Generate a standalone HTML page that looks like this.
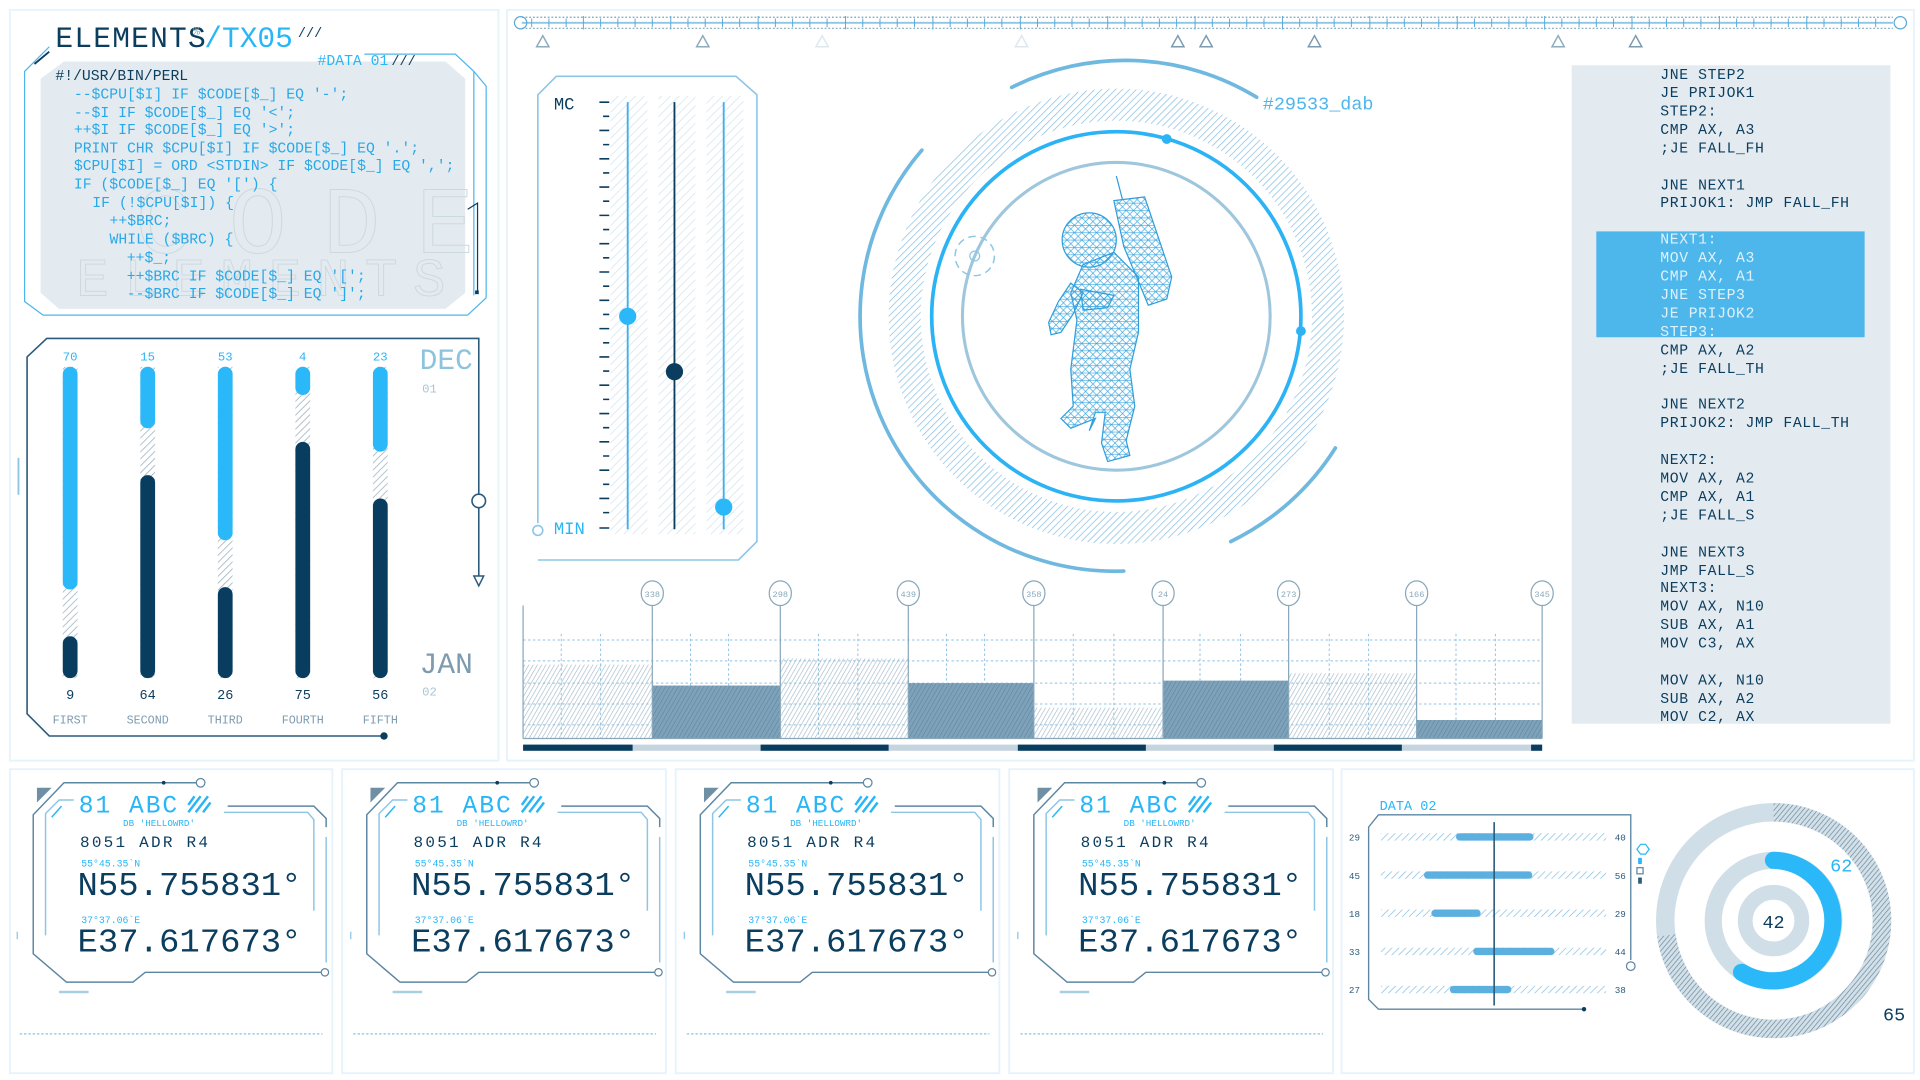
<!DOCTYPE html>
<html><head><meta charset="utf-8"><style>
html,body{margin:0;padding:0;background:#fff;}
svg{display:block;}
text{font-family:"Liberation Mono","DejaVu Sans Mono",monospace;}
</style></head><body>
<svg width="1920" height="1080" viewBox="0 0 1560 877.5" xmlns="http://www.w3.org/2000/svg">
<defs>
<pattern id="hl" patternUnits="userSpaceOnUse" width="4" height="4" patternTransform="rotate(45)"><line x1="0" y1="0" x2="0" y2="4" stroke="#7fbbe0" stroke-width="1.1"/></pattern>
<pattern id="hlp" patternUnits="userSpaceOnUse" width="5" height="5" patternTransform="rotate(45)"><line x1="0" y1="0" x2="0" y2="5" stroke="#d3e4ee" stroke-width="1.2"/></pattern>
<pattern id="hd" patternUnits="userSpaceOnUse" width="3" height="3" patternTransform="rotate(30)"><line x1="0" y1="0" x2="0" y2="3" stroke="#9fb7c7" stroke-width="1"/></pattern>
<pattern id="hdk" patternUnits="userSpaceOnUse" width="3" height="3" patternTransform="rotate(30)"><rect width="3" height="3" fill="#7fa2bb"/><line x1="0" y1="0" x2="0" y2="3" stroke="#5f869f" stroke-width="1"/></pattern>
<pattern id="hg" patternUnits="userSpaceOnUse" width="4" height="4" patternTransform="rotate(45)"><line x1="0" y1="0" x2="0" y2="4" stroke="#9fb4c2" stroke-width="1.3"/></pattern>
<pattern id="hring" patternUnits="userSpaceOnUse" width="3" height="3" patternTransform="rotate(40)"><rect width="3" height="3" fill="#d3e0e8"/><line x1="0" y1="0" x2="0" y2="3" stroke="#6f8ea3" stroke-width="1.2"/></pattern>
<pattern id="mesh" patternUnits="userSpaceOnUse" width="6" height="6"><path d="M0 0L6 6M6 0L0 6M0 3H6" stroke="#3aa4dd" stroke-width="0.5" fill="none"/></pattern>
</defs>

<g fill="none" stroke="#e5f3fb" stroke-width="1.5">
<rect x="8" y="8" width="397" height="610"/>
<rect x="412" y="8" width="1143" height="610"/>
<rect x="8" y="625" width="262" height="247"/>
<rect x="278" y="625" width="263" height="247"/>
<rect x="549" y="625" width="263" height="247"/>
<rect x="820" y="625" width="263" height="247"/>
<rect x="1090" y="625" width="465" height="247"/>
</g>

<polygon points="52,50 362,50 378,64 378,238 362,251 48,251 33,238 33,64" fill="#e3ebf0"/>
<g fill="none" stroke="#4fb6ec" stroke-width="1">
<path d="M40 38 L20 58 L20 245 L35 256 L380 256"/>
<path d="M296 44 L370 44 L385 58 L385 240"/>
<path d="M380 256 L395 242 L395 70 L385 58" />
</g>
<path d="M28 52 L40 42" stroke="#0a3d5e" stroke-width="1.5"/>
<path d="M380 170 L388 165 L388 238" stroke="#0a3d5e" stroke-width="1" fill="none"/>
<rect x="386" y="236" width="3" height="3" fill="#0a3d5e"/>
<text x="45" y="38" font-size="24" fill="#0a3d5e" letter-spacing="1">ELEMENTS</text>
<text x="157" y="28" font-size="9" fill="#8aa">%</text>
<text x="166" y="38" font-size="24" fill="#29b6f6">/TX05</text>
<text x="242" y="30" font-size="11" fill="#0a3d5e">///</text>
<text x="258" y="53" font-size="12" fill="#29b6f6">#DATA 01</text><text x="318" y="53" font-size="11" fill="#0a3d5e">///</text>
<text x="110" y="205" font-size="78" fill="none" stroke="#cdd9e0" stroke-width="0.8" textLength="275" lengthAdjust="spacing" font-family="Liberation Sans">CODE</text>
<text x="62" y="240" font-size="44" fill="none" stroke="#cdd9e0" stroke-width="0.8" textLength="300" lengthAdjust="spacing" font-family="Liberation Sans">ELEMENTS</text>
<g font-size="12" fill="#29a8e8">
<text x="45" y="65" fill="#0a3d5e">#!/USR/BIN/PERL</text>
<text x="60" y="80">--$CPU[$I] IF $CODE[$_] EQ '-';</text>
<text x="60" y="95">--$I IF $CODE[$_] EQ '&lt;';</text>
<text x="60" y="109">++$I IF $CODE[$_] EQ '&gt;';</text>
<text x="60" y="124">PRINT CHR $CPU[$I] IF $CODE[$_] EQ '.';</text>
<text x="60" y="138">$CPU[$I] = ORD &lt;STDIN&gt; IF $CODE[$_] EQ ',';</text>
<text x="60" y="153">IF ($CODE[$_] EQ '[') {</text>
<text x="75" y="168">IF (!$CPU[$I]) {</text>
<text x="89" y="183">++$BRC;</text>
<text x="89" y="198">WHILE ($BRC) {</text>
<text x="103" y="213">++$_;</text>
<text x="103" y="228">++$BRC IF $CODE[$_] EQ '[';</text>
<text x="103" y="242">--$BRC IF $CODE[$_] EQ ']';</text>
</g>

<g fill="none" stroke="#2b5a7a" stroke-width="1.3">
<path d="M389 470 L389 275 L38 275 L22 290 L22 580 L40 598 L312 598"/>
</g>
<circle cx="389" cy="407" r="5.5" fill="#fff" stroke="#2b5a7a" stroke-width="1.3"/>
<path d="M385 468 L393 468 L389 476 Z" fill="#fff" stroke="#2b5a7a" stroke-width="1.2"/>
<circle cx="312" cy="598" r="3" fill="#0a3d5e"/>
<line x1="15" y1="372" x2="15" y2="402" stroke="#8fc3e2" stroke-width="1.5"/>
<g>
<rect x="51" y="298" width="12" height="253" fill="url(#hg)"/>
<rect x="51" y="298" width="12" height="181" rx="6" fill="#2bb8f8"/>
<rect x="51" y="517" width="12" height="34" rx="6" fill="#083d60"/>
<rect x="114" y="298" width="12" height="253" fill="url(#hg)"/>
<rect x="114" y="298" width="12" height="50" rx="6" fill="#2bb8f8"/>
<rect x="114" y="386" width="12" height="165" rx="6" fill="#083d60"/>
<rect x="177" y="298" width="12" height="253" fill="url(#hg)"/>
<rect x="177" y="298" width="12" height="141" rx="6" fill="#2bb8f8"/>
<rect x="177" y="477" width="12" height="74" rx="6" fill="#083d60"/>
<rect x="240" y="298" width="12" height="253" fill="url(#hg)"/>
<rect x="240" y="298" width="12" height="23" rx="6" fill="#2bb8f8"/>
<rect x="240" y="359" width="12" height="192" rx="6" fill="#083d60"/>
<rect x="303" y="298" width="12" height="253" fill="url(#hg)"/>
<rect x="303" y="298" width="12" height="69" rx="6" fill="#2bb8f8"/>
<rect x="303" y="405" width="12" height="146" rx="6" fill="#083d60"/>
</g>
<g font-size="10" text-anchor="middle">
<g fill="#29b6f6"><text x="57" y="293">70</text><text x="120" y="293">15</text><text x="183" y="293">53</text><text x="246" y="293">4</text><text x="309" y="293">23</text></g>
<g fill="#0a3d5e" font-size="11"><text x="57" y="568">9</text><text x="120" y="568">64</text><text x="183" y="568">26</text><text x="246" y="568">75</text><text x="309" y="568">56</text></g>
<g fill="#7d9bb0" font-size="9.5"><text x="57" y="588">FIRST</text><text x="120" y="588">SECOND</text><text x="183" y="588">THIRD</text><text x="246" y="588">FOURTH</text><text x="309" y="588">FIFTH</text></g>
</g>
<text x="341" y="300" font-size="24" fill="#8ec3de">DEC</text>
<text x="343" y="319" font-size="10" fill="#a9c6d6">01</text>
<text x="341" y="547" font-size="24" fill="#7d9bb0">JAN</text>
<text x="343" y="565" font-size="10" fill="#a9c6d6">02</text>

<g stroke="#5aa9d6" fill="none">
<line x1="424" y1="14" x2="1538" y2="14" stroke-dasharray="1.5 1.5" stroke="#7fa6bf"/>
<line x1="424" y1="23" x2="1538" y2="23" stroke-dasharray="1.5 1.5" stroke="#7fa6bf"/>
<line x1="424" y1="18.5" x2="1538" y2="18.5" stroke="#8fc6e6" stroke-width="1.5"/>
<circle cx="423" cy="18.5" r="5" stroke="#5aa9d6"/>
<circle cx="1544" cy="18.5" r="5" stroke="#5aa9d6"/>
<path stroke="#5aa9d6" stroke-width="0.8" d="M432 15v7M446 15v7M460 15v7M474 13v11M488 15v7M502 15v7M516 15v7M530 15v7M545 13v11M559 15v7M573 15v7M587 15v7M601 15v7M616 13v11M630 15v7M644 15v7M658 15v7M672 15v7M687 13v11M701 15v7M715 15v7M729 15v7M743 15v7M758 13v11M772 15v7M786 15v7M800 15v7M814 15v7M829 13v11M843 15v7M857 15v7M871 15v7M885 15v7M900 13v11M914 15v7M928 15v7M942 15v7M956 15v7M971 13v11M985 15v7M999 15v7M1013 15v7M1027 15v7M1042 13v11M1056 15v7M1070 15v7M1084 15v7M1098 15v7M1113 13v11M1127 15v7M1141 15v7M1155 15v7M1169 15v7M1184 13v11M1198 15v7M1212 15v7M1226 15v7M1240 15v7M1255 13v11M1269 15v7M1283 15v7M1297 15v7M1311 15v7M1326 13v11M1340 15v7M1354 15v7M1368 15v7M1382 15v7M1397 13v11M1411 15v7M1425 15v7M1439 15v7M1453 15v7M1468 13v11M1482 15v7M1496 15v7M1510 15v7M1524 15v7"/>
</g>
<g fill="none" stroke-width="1.2">
<path d="M441 29 L436 38 L446 38 Z" stroke="#8eaabd"/>
<path d="M571 29 L566 38 L576 38 Z" stroke="#8eaabd"/>
<path d="M668 29 L663 38 L673 38 Z" stroke="#dde7ee"/>
<path d="M830 29 L825 38 L835 38 Z" stroke="#dde7ee"/>
<path d="M957 29 L952 38 L962 38 Z" stroke="#7a9ab0"/>
<path d="M980 29 L975 38 L985 38 Z" stroke="#7a9ab0"/>
<path d="M1068 29 L1063 38 L1073 38 Z" stroke="#7a9ab0"/>
<path d="M1266 29 L1261 38 L1271 38 Z" stroke="#8eaabd"/>
<path d="M1329 29 L1324 38 L1334 38 Z" stroke="#7a9ab0"/>
</g>

<path d="M437 425 L437 77 L452 62 L598 62 L615 77 L615 440 L600 455 L437 455" fill="none" stroke="#8cc6e6" stroke-width="1.3"/>
<circle cx="437" cy="431" r="4" fill="#fff" stroke="#8cc6e6" stroke-width="1.3"/>
<text x="450" y="89" font-size="14" fill="#0a3d5e">MC</text>
<text x="450" y="434" font-size="14" fill="#29b6f6">MIN</text>
<rect x="496" y="78" width="30" height="356" fill="url(#hlp)"/>
<rect x="535" y="78" width="30" height="356" fill="url(#hlp)"/>
<rect x="574" y="78" width="30" height="356" fill="url(#hlp)"/>
<g stroke="#0a3d5e" stroke-width="1.3">
<path d="M487 83h8M490 94.5h5M487 106h8M490 117.5h5M487 129h8M490 140.5h5M487 152h8M490 163.5h5M487 175h8M490 186.5h5M487 198h8M490 209.5h5M487 221h8M490 232.5h5M487 244h8M490 255.5h5M487 267h8M490 278.5h5M487 290h8M490 301.5h5M487 313h8M490 324.5h5M487 336h8M490 347.5h5M487 359h8M490 370.5h5M487 382h8M490 393.5h5M487 405h8M490 416.5h5M487 429h8"/>
</g>
<line x1="510" y1="83" x2="510" y2="430" stroke="#3bb0f0" stroke-width="1.5"/>
<line x1="548" y1="83" x2="548" y2="430" stroke="#0a3d5e" stroke-width="1.5"/>
<line x1="588" y1="83" x2="588" y2="430" stroke="#3bb0f0" stroke-width="1.5"/>
<circle cx="510" cy="257" r="7" fill="#2bb8f8"/>
<circle cx="548" cy="302" r="7" fill="#0a3d5e"/>
<circle cx="588" cy="412" r="7" fill="#2bb8f8"/>

<circle cx="907" cy="257" r="172" fill="none" stroke="url(#hl)" stroke-width="26"/>
<circle cx="907" cy="257" r="125" fill="none" stroke="#9ec6dd" stroke-width="2.5"/>
<circle cx="907" cy="257" r="150" fill="none" stroke="#2bb3f5" stroke-width="3"/>
<circle cx="948" cy="113" r="4" fill="#2bb3f5"/>
<circle cx="1057" cy="269" r="4" fill="#2bb3f5"/>
<circle cx="792" cy="208" r="16" fill="none" stroke="#8cc6e6" stroke-width="1.2" stroke-dasharray="6 4"/>
<circle cx="792" cy="208" r="4" fill="none" stroke="#8cc6e6" stroke-width="1"/>
<g fill="none" stroke="#6fb8e0" stroke-width="3" stroke-linecap="round">
<path d="M822 71 A205 205 0 0 1 1021 79"/>
<path d="M749 122 A207 207 0 0 0 913 464"/>
<path d="M1085 364 A208 208 0 0 1 1000 440"/>
</g>
<text x="1026" y="89" font-size="15" fill="#4fb6ec">#29533_dab</text>
<g stroke="#2f9fdc" stroke-width="1" fill="url(#mesh)">
<line x1="907" y1="143" x2="912" y2="162" />
<polygon points="905,163 930,160 952,225 948,243 933,248 913,200"/>
<circle cx="885" cy="195" r="22"/>
<polygon points="880,215 905,205 925,225 925,270 918,300 922,330 915,358 918,370 900,375 895,360 898,335 890,335 885,350 890,340 870,348 862,340 872,330 870,300 875,260 870,238"/>
<polygon points="870,230 880,238 872,255 862,270 854,272 852,262 860,245"/>
<polygon points="878,235 905,240 900,250 880,252"/>
</g>

<g stroke="#8fc3e2" stroke-width="0.8" stroke-dasharray="2 2" fill="none">
<path d="M425 520H1253M425 537H1253M425 555H1253M425 572H1253M425 589H1253"/>
<path d="M456 515V600M488 515V600M561 515V600M592 515V600M665 515V600M697 515V600M769 515V600M800 515V600M872 515V600M905 515V600M975 515V600M1008 515V600M1080 515V600M1112 515V600M1183 515V600M1215 515V600"/>
</g>
<rect x="425" y="540" width="105" height="60" fill="url(#hd)"/>
<rect x="530" y="557" width="104" height="43" fill="url(#hdk)"/>
<rect x="634" y="535" width="104" height="65" fill="url(#hd)"/>
<rect x="738" y="555" width="102" height="45" fill="url(#hdk)"/>
<rect x="840" y="575" width="105" height="25" fill="url(#hd)"/>
<rect x="945" y="553" width="102" height="47" fill="url(#hdk)"/>
<rect x="1047" y="547" width="104" height="53" fill="url(#hd)"/>
<rect x="1151" y="585" width="102" height="15" fill="url(#hdk)"/>
<g stroke="#8aa8bc" stroke-width="1">
<line x1="425" y1="492" x2="425" y2="600"/>
<line x1="425" y1="600" x2="1253" y2="600"/>
<path d="M530 491V600M634 491V600M738 491V600M840 491V600M945 491V600M1047 491V600M1151 491V600M1253 491V600"/>
</g>
<g fill="#fff" stroke="#8aa8bc" stroke-width="1">
<ellipse cx="530" cy="482" rx="9" ry="10"/><ellipse cx="634" cy="482" rx="9" ry="10"/><ellipse cx="738" cy="482" rx="9" ry="10"/><ellipse cx="840" cy="482" rx="9" ry="10"/><ellipse cx="945" cy="482" rx="9" ry="10"/><ellipse cx="1047" cy="482" rx="9" ry="10"/><ellipse cx="1151" cy="482" rx="9" ry="10"/><ellipse cx="1253" cy="482" rx="9" ry="10"/>
</g>
<g font-size="7" fill="#8aa8bc" text-anchor="middle">
<text x="530" y="485">338</text><text x="634" y="485">298</text><text x="738" y="485">439</text><text x="840" y="485">358</text><text x="945" y="485">24</text><text x="1047" y="485">273</text><text x="1151" y="485">166</text><text x="1253" y="485">345</text>
</g>
<rect x="425" y="605" width="828" height="5" fill="#c4d5e0"/>
<g fill="#083d60">
<rect x="425" y="605" width="89" height="5"/><rect x="618" y="605" width="104" height="5"/><rect x="827" y="605" width="104" height="5"/><rect x="1035" y="605" width="104" height="5"/><rect x="1244" y="605" width="9" height="5"/>
</g>

<rect x="1277" y="53" width="259" height="535" fill="#e4ebf0"/>
<rect x="1297" y="188" width="218" height="86" fill="#4db6ea"/>
<g font-size="12" fill="#0a3d5e" letter-spacing="0.5">
<text x="1349" y="64">JNE STEP2</text>
<text x="1349" y="79">JE PRIJOK1</text>
<text x="1349" y="94">STEP2:</text>
<text x="1349" y="109">CMP AX, A3</text>
<text x="1349" y="124">;JE FALL_FH</text>
<text x="1349" y="154">JNE NEXT1</text>
<text x="1349" y="168">PRIJOK1: JMP FALL_FH</text>
<g fill="#dff1fb">
<text x="1349" y="198">NEXT1:</text>
<text x="1349" y="213">MOV AX, A3</text>
<text x="1349" y="228">CMP AX, A1</text>
<text x="1349" y="243">JNE STEP3</text>
<text x="1349" y="258">JE PRIJOK2</text>
<text x="1349" y="273">STEP3:</text>
</g>
<text x="1349" y="288">CMP AX, A2</text>
<text x="1349" y="303">;JE FALL_TH</text>
<text x="1349" y="332">JNE NEXT2</text>
<text x="1349" y="347">PRIJOK2: JMP FALL_TH</text>
<text x="1349" y="377">NEXT2:</text>
<text x="1349" y="392">MOV AX, A2</text>
<text x="1349" y="407">CMP AX, A1</text>
<text x="1349" y="422">;JE FALL_S</text>
<text x="1349" y="452">JNE NEXT3</text>
<text x="1349" y="467">JMP FALL_S</text>
<text x="1349" y="481">NEXT3:</text>
<text x="1349" y="496">MOV AX, N10</text>
<text x="1349" y="511">SUB AX, A1</text>
<text x="1349" y="526">MOV C3, AX</text>
<text x="1349" y="556">MOV AX, N10</text>
<text x="1349" y="571">SUB AX, A2</text>
<text x="1349" y="586">MOV C2, AX</text>
</g>

<g id="card">
<polygon points="30,640 42,640 30,652" fill="#6f8fa5"/>
<g fill="none" stroke="#5d86a2" stroke-width="1.2">
<path d="M160 636 L52 636 L27 662 L27 775 L54 798 L108 798 L118 790 L262 790"/>
<path d="M185 655 L255 655 L265 665 L265 672"/>
</g>
<g fill="none" stroke="#8cc6e6" stroke-width="1.2">
<path d="M60 650 L48 650 L37 661 L37 760"/>
<path d="M182 660 L250 660 L255 666 L255 740"/>
<path d="M265 680 L265 782"/>
<path d="M50 655 L42 664" stroke="#29b6f6"/>
<path d="M48 806 L72 806" stroke-width="2" stroke="#a9cfe4"/>
</g>
<circle cx="163" cy="636" r="3.5" fill="#fff" stroke="#5d86a2" stroke-width="1"/>
<circle cx="133" cy="636" r="1.5" fill="#0a3d5e"/>
<circle cx="264" cy="790" r="3" fill="#fff" stroke="#5d86a2" stroke-width="1"/>
<text x="64" y="660" font-size="20" fill="#29b6f6" textLength="80" lengthAdjust="spacing">81 ABC</text>
<g stroke="#29b6f6" stroke-width="2"><path d="M153 660 L163 647M159 660 L169 647M165 660 L171 652M153 654 L158 647"/></g>
<text x="100" y="671" font-size="7.5" fill="#29b6f6">DB 'HELLOWRD'</text>
<text x="65" y="688" font-size="13" fill="#0a3d5e" textLength="104" lengthAdjust="spacing">8051 ADR R4</text>
<text x="66" y="704" font-size="8" fill="#29b6f6">55°45.35`N</text>
<text x="63" y="727" font-size="27" fill="#0a3d5e" textLength="182" lengthAdjust="spacingAndGlyphs">N55.755831°</text>
<text x="66" y="750" font-size="8" fill="#29b6f6">37°37.06`E</text>
<text x="63" y="773" font-size="27" fill="#0a3d5e" textLength="182" lengthAdjust="spacingAndGlyphs">E37.617673°</text>
<line x1="16" y1="840" x2="262" y2="840" stroke="#8cc6e6" stroke-width="1" stroke-dasharray="2 1.5"/>
<line x1="14" y1="757" x2="14" y2="763" stroke="#8cc6e6"/>
</g>
<use href="#card" x="271"/>
<use href="#card" x="542"/>
<use href="#card" x="813"/>

<text x="1121" y="658" font-size="11" fill="#29b6f6">DATA 02</text>
<path d="M1325 780 L1325 662 L1120 662 L1112 672 L1112 812 L1120 820 L1287 820" fill="none" stroke="#5d86a2" stroke-width="1.1"/>
<circle cx="1325" cy="785" r="3.5" fill="#fff" stroke="#5d86a2"/>
<circle cx="1287" cy="820" r="1.8" fill="#0a3d5e"/>
<g fill="url(#hl)">
<rect x="1122" y="677" width="183" height="6"/><rect x="1122" y="708" width="183" height="6"/><rect x="1122" y="739" width="183" height="6"/><rect x="1122" y="770" width="183" height="6"/><rect x="1122" y="801" width="183" height="6"/>
</g>
<g fill="#5bb0e0">
<rect x="1183" y="677" width="63" height="6" rx="3"/><rect x="1157" y="708" width="88" height="6" rx="3"/><rect x="1163" y="739" width="40" height="6" rx="3"/><rect x="1197" y="770" width="66" height="6" rx="3"/><rect x="1178" y="801" width="50" height="6" rx="3"/>
</g>
<line x1="1214" y1="668" x2="1214" y2="817" stroke="#2b5a7a" stroke-width="1.3"/>
<g font-size="7.5" fill="#2b5a7a">
<text x="1096" y="683">29</text><text x="1096" y="714">45</text><text x="1096" y="745">18</text><text x="1096" y="776">33</text><text x="1096" y="807">27</text>
<text x="1312" y="683">40</text><text x="1312" y="714">56</text><text x="1312" y="745">29</text><text x="1312" y="776">44</text><text x="1312" y="807">38</text>
</g>
<polygon points="1330,690 1333,686 1337,686 1340,690 1337,694 1333,694" fill="none" stroke="#29b6f6"/>
<rect x="1331" y="697" width="3" height="5" fill="#29b6f6"/>
<rect x="1330" y="705" width="5" height="5" fill="none" stroke="#5d86a2"/>
<rect x="1331" y="713" width="3" height="5" fill="#2b5a7a"/>

<circle cx="1441" cy="748" r="88" fill="none" stroke="#d0dfe7" stroke-width="15"/>
<path d="M1441 660 A88 88 0 1 1 1354 760" fill="none" stroke="url(#hring)" stroke-width="15"/>
<circle cx="1441" cy="748" r="49" fill="none" stroke="#d0dfe7" stroke-width="14"/>
<path d="M1441 699 A49 49 0 1 1 1415 790" fill="none" stroke="#2bb8f8" stroke-width="14" stroke-linecap="round"/>
<circle cx="1441" cy="748" r="23" fill="none" stroke="#d0dfe7" stroke-width="12"/>
<text x="1441" y="754" font-size="15" fill="#0a3d5e" text-anchor="middle">42</text>
<text x="1487" y="708" font-size="15" fill="#29b6f6">62</text>
<text x="1530" y="829" font-size="15" fill="#0a3d5e">65</text>
</svg>
</body></html>
